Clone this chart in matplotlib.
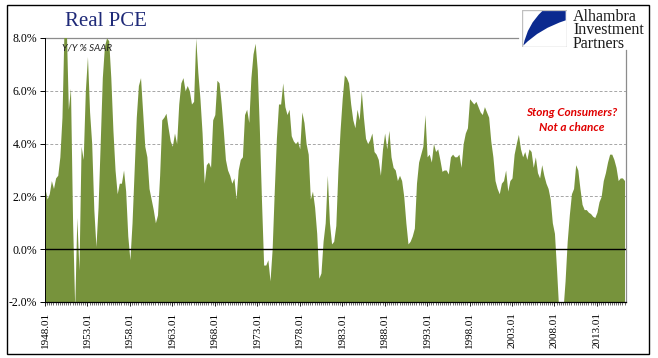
import matplotlib
matplotlib.use("Agg")
import matplotlib.pyplot as plt
from matplotlib.patches import Rectangle, PathPatch
from matplotlib.path import Path
import numpy as np

# Quarterly Y/Y % change in real PCE, 1948Q1 onward
pce = [
    2.3, 1.9, 2.1, 2.6, 2.3, 2.7, 2.8, 3.5, 5.0, 8.5,
    8.5, 5.3, 6.1, 1.0, -2.2, 1.2, -0.8, 3.9, 3.4, 6.0,
    7.3, 5.2, 4.0, 1.5, 0.1, 1.6, 4.0, 6.5, 7.7, 8.0,
    7.9, 6.5, 4.5, 3.0, 2.1, 2.5, 2.5, 3.0, 2.2, 0.5,
    -0.4, 1.0, 3.0, 5.0, 6.2, 6.5, 5.2, 3.9, 3.5, 2.3,
    1.9, 1.5, 1.0, 1.3, 2.8, 4.9, 5.0, 5.15, 4.6, 4.1,
    3.9, 4.4, 4.0, 5.5, 6.3, 6.5, 6.0, 6.2, 6.0, 5.5,
    5.6, 8.0, 6.7, 5.7, 4.4, 2.5, 3.2, 3.3, 3.1, 4.9,
    5.1, 6.4, 6.3, 5.5, 4.5, 3.4, 3.0, 2.8, 2.5, 2.7,
    1.9, 3.0, 3.4, 3.5, 5.1, 5.3, 4.8, 6.5, 7.4, 7.8,
    6.8, 4.5, 1.8, -0.6, -0.6, -0.4, -1.2, 0.0, 2.2, 4.2,
    5.5, 5.5, 6.3, 5.4, 5.1, 5.3, 4.3, 4.1, 4.0, 4.1,
    3.8, 5.2, 4.8, 4.0, 3.6, 1.9, 2.2, 1.6, 0.6, -1.1,
    -0.9, 0.3, 1.0, 2.8, 1.0, 0.2, 0.3, 0.9, 3.0, 4.5,
    5.7, 6.6, 6.5, 6.3, 5.5, 4.9, 4.6, 5.3, 4.9, 6.0,
    5.0, 4.2, 4.0, 4.15, 4.4, 3.7, 3.6, 3.4, 2.8, 3.8,
    4.4, 3.8, 4.5, 3.5, 3.1, 3.0, 2.6, 2.8, 2.6, 2.0,
    1.0, 0.2, 0.3, 0.5, 0.8, 2.5, 3.3, 3.6, 3.9, 5.1,
    3.5, 3.6, 3.3, 4.0, 3.7, 3.8, 3.4, 2.95, 3.0, 3.0,
    2.85, 3.5, 3.6, 3.5, 3.5, 3.6, 3.1, 4.0, 4.4, 4.6,
    5.7, 5.6, 5.5, 5.6, 5.4, 5.2, 5.1, 5.4, 5.2, 5.0,
    4.1, 3.5, 2.6, 2.3, 2.1, 2.5, 2.6, 3.0, 2.2, 2.6,
    2.7, 3.6, 4.0, 4.35, 3.8, 3.5, 3.7, 3.4, 3.8, 3.7,
    3.1, 3.5, 2.9, 2.7, 3.2, 2.8, 2.5, 2.3, 1.9, 1.0,
    0.6, -0.8, -2.3, -2.5, -2.3, -1.2, 0.3, 1.3, 2.1, 2.3,
    3.2, 3.0, 2.3, 1.7, 1.5, 1.5, 1.4, 1.35, 1.25, 1.2,
    1.4, 1.8, 2.0, 2.6, 2.9, 3.3, 3.6, 3.6, 3.4, 3.1,
    2.6, 2.7, 2.7, 2.6,
]
tick_years = [1948, 1953, 1958, 1963, 1968, 1973, 1978, 1983, 1988, 1993,
              1998, 2003, 2008, 2013]
tick_labels = [f"{y}.01" for y in tick_years]
y_ticks = [-2, 0, 2, 4, 6, 8]
logo_lines = ["Alhambra", "Investment", "Partners"]

W, H = 658, 358
fig = plt.figure(figsize=(W / 100, H / 100), dpi=100)
ax = fig.add_axes([45 / W, 1 - 302 / H, (626 - 45) / W, (302 - 38) / H])

x = np.arange(len(pce))
green = "#77933C"
ax.fill_between(x, -2, pce, color=green, lw=0, zorder=2)
ax.set_xlim(0, 273.7)
ax.set_ylim(-2, 8)

# grid
for g in [2, 4, 6]:
    ax.axhline(g, color="#A6A6A6", lw=0.7, ls=(0, (3, 2)), zorder=1)
ax.axhline(0, color="black", lw=1.0, zorder=3)
ax.plot([0, (518 - 45) / 2.123], [8, 8], color="#8C8C8C", lw=0.9, zorder=1,
        clip_on=False)
ax.plot([273.7, 273.7], [-2, 7.55], color="#8C8C8C", lw=0.9, zorder=1,
        clip_on=False)

for s in ["top", "right"]:
    ax.spines[s].set_visible(False)
ax.spines["bottom"].set_color("black")
ax.spines["bottom"].set_linewidth(0.9)
ax.spines["left"].set_color("black")
ax.spines["left"].set_linewidth(0.7)
ax.spines["bottom"].set_zorder(4)

serif = "Liberation Serif"
ax.set_yticks(y_ticks)
ax.set_yticklabels([f"{v:.1f}%" for v in y_ticks], fontfamily=serif,
                   fontsize=8.5)
ax.tick_params(axis="y", direction="out", length=3.5, width=0.7, pad=2)

major = [(y - 1948) * 4 for y in tick_years]
ax.set_xticks(major)
ax.set_xticklabels(tick_labels, rotation=90, fontfamily=serif, fontsize=8)
ax.set_xticks(np.arange(0, 274, 1), minor=True)
ax.tick_params(axis="x", which="major", direction="out", length=3, width=0.6,
               pad=4)
ax.tick_params(axis="x", which="minor", direction="out", length=2.5,
               width=0.4)

# texts
fig.text(106 / W, 1 - 22 / H, "Real PCE", fontfamily=serif, fontsize=15,
         color="#1F2A78", ha="center", va="center")
fig.text(62 / W, 1 - 48 / H, "Y/Y % SAAR", fontfamily="Lato",
         fontstyle="italic", fontsize=7, color="#222222", ha="left",
         va="center")
fig.text(572 / W, 1 - 112 / H, "Stong Consumers?", fontfamily="Lato",
         fontstyle="italic", fontweight="bold", fontsize=8.5, color="#E00000",
         ha="center", va="center")
fig.text(572 / W, 1 - 127 / H, "Not a chance", fontfamily="Lato",
         fontstyle="italic", fontweight="bold", fontsize=8.5, color="#E00000",
         ha="center", va="center")

# logo
lx0, ly0, lw_, lh_ = 522, 10, 45, 37
lax = fig.add_axes([lx0 / W, 1 - (ly0 + lh_) / H, lw_ / W, lh_ / H])
lax.set_xlim(0, 1)
lax.set_ylim(0, 1)
lax.axis("off")
lax.add_patch(Rectangle((0, 0), 1, 1, facecolor="white", edgecolor="#BFBFBF",
                        lw=1.0))
verts = [(0.45, 0.97), (0.12, 0.6), (0.03, 0.04),
         (0.4, 0.5), (0.97, 0.72),
         (0.97, 0.97), (0.45, 0.97)]
codes = [Path.MOVETO, Path.CURVE3, Path.CURVE3,
         Path.CURVE3, Path.CURVE3,
         Path.LINETO, Path.CLOSEPOLY]
lax.add_patch(PathPatch(Path(verts, codes), facecolor="#0B2A8F", lw=0))
fig.text(573 / W, 1 - 9 / H, "\n".join(logo_lines), fontfamily=serif,
         fontsize=11.5, color="#1A1A1A", ha="left", va="top",
         linespacing=0.78)

# outer border
fig.add_artist(Rectangle((7 / W, 1 - 354 / H), (649 - 7) / W, (354 - 5) / H,
                         transform=fig.transFigure, fill=False,
                         edgecolor="black", lw=1.0))

fig.savefig("out.png", dpi=100)
